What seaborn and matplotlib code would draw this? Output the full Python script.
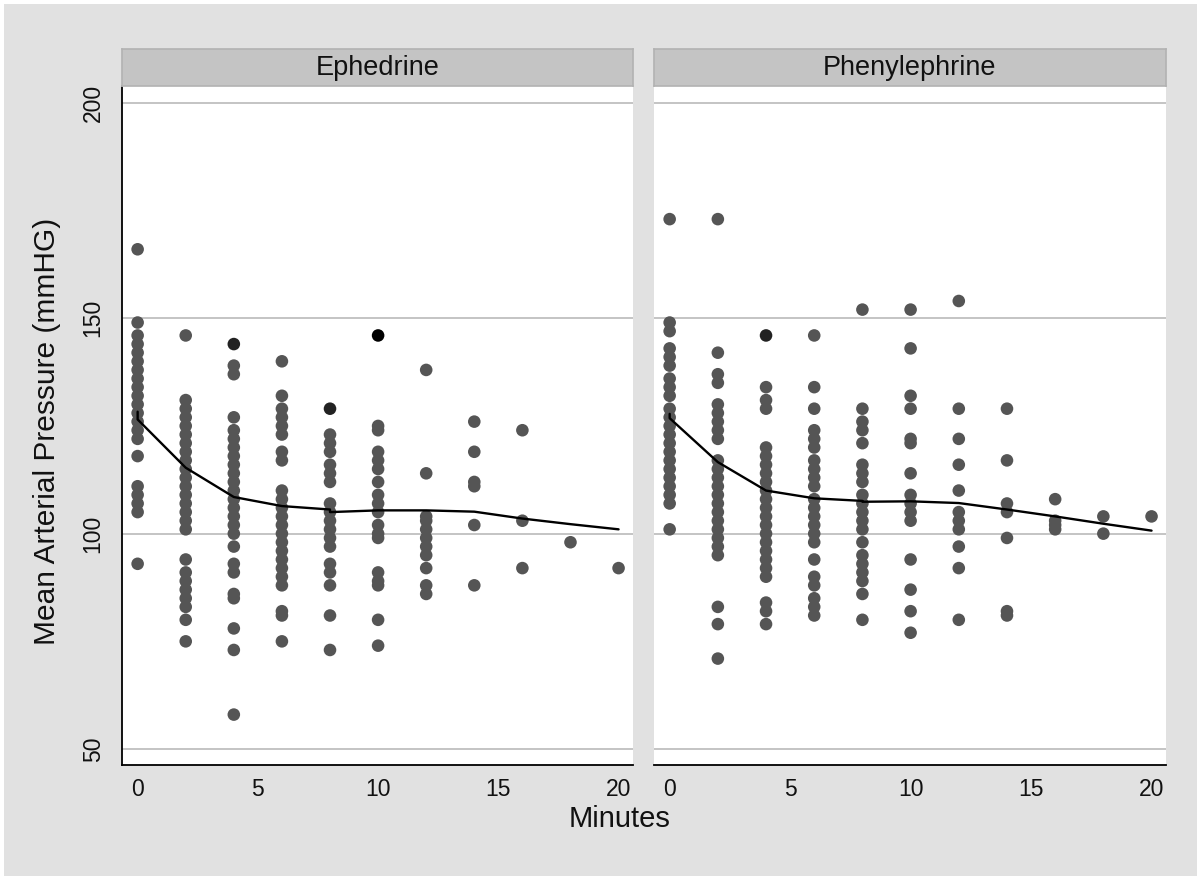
import numpy as np
import pandas as pd
import matplotlib
matplotlib.use("Agg")
import matplotlib.pyplot as plt
from matplotlib.patches import Rectangle
import seaborn as sns

# ---------------- data ----------------
panels = ["Ephedrine", "Phenylephrine"]
minutes = [0, 2, 4, 6, 8, 10, 12, 14, 16, 18, 20]

# Ephedrine: mean arterial pressure per time point
eph_t0 = [166, 149, 146, 144, 142, 140, 138, 136, 134, 132, 130, 128, 126, 124, 122, 118, 111, 109, 107, 105, 93]
eph_t2 = [146, 131, 129, 127, 125, 123, 121, 119, 117, 115, 113, 111, 109, 107, 105, 103, 101, 94, 91, 89, 87, 85, 83, 80, 75]
eph_t4 = [144, 144, 139, 137, 127, 124, 122, 120, 118, 116, 114, 112, 110, 108, 106, 104, 102, 100, 97, 93, 91, 86, 85, 78, 73, 58]
eph_t6 = [140, 132, 129, 127, 125, 123, 119, 117, 110, 108, 106, 104, 102, 100, 98, 96, 94, 92, 90, 88, 82, 81, 75]
eph_t8 = [129, 129, 123, 121, 119, 116, 114, 112, 107, 105, 103, 101, 99, 97, 93, 91, 88, 81, 73]
eph_t10 = [146, 146, 146, 125, 124, 119, 117, 115, 112, 109, 107, 105, 102, 100, 99, 91, 89, 88, 80, 74]
eph_t12 = [138, 114, 104, 103, 101, 99, 97, 95, 92, 88, 86]
eph_t14 = [126, 119, 112, 111, 102, 88]
eph_t16 = [124, 103, 92]
eph_t18 = [98]
eph_t20 = [92]

# Phenylephrine: mean arterial pressure per time point
phe_t0 = [173, 149, 147, 143, 141, 139, 136, 134, 132, 129, 127, 125, 123, 121, 119, 117, 115, 113, 111, 109, 107, 101]
phe_t2 = [173, 142, 137, 135, 130, 128, 126, 124, 122, 117, 115, 113, 111, 109, 107, 105, 103, 101, 99, 97, 95, 83, 79, 71]
phe_t4 = [146, 146, 134, 131, 129, 120, 118, 116, 114, 112, 110, 108, 106, 104, 102, 100, 98, 96, 94, 92, 90, 84, 82, 79]
phe_t6 = [146, 134, 129, 124, 122, 120, 117, 115, 113, 111, 108, 106, 104, 102, 100, 98, 94, 90, 88, 85, 83, 81]
phe_t8 = [152, 129, 126, 124, 121, 116, 114, 112, 109, 107, 105, 103, 101, 98, 95, 93, 91, 89, 86, 80]
phe_t10 = [152, 143, 132, 129, 122, 121, 114, 109, 107, 105, 103, 94, 87, 82, 77]
phe_t12 = [154, 129, 122, 116, 110, 105, 103, 101, 97, 92, 80]
phe_t14 = [129, 117, 107, 105, 99, 82, 81]
phe_t16 = [108, 103, 102, 101]
phe_t18 = [104, 100]
phe_t20 = [104]

# smoothed (lowess) curves
fit_minutes = [0, 0, 2, 4, 6, 8, 8, 10, 12, 14, 16, 18, 20]
eph_fit = [128.3, 126.5, 115.3, 108.5, 106.4, 105.6, 105.0, 105.4, 105.4, 105.1, 103.5, 102.2, 101.0]
phe_fit = [127.8, 126.8, 116.6, 110.0, 108.2, 107.6, 107.4, 107.5, 107.1, 105.6, 104.0, 102.3, 100.7]

yticks = [50, 100, 150, 200]
xticks = [0, 5, 10, 15, 20]
ylabel = "Mean Arterial Pressure (mmHG)"
xlabel = "Minutes"

# ---------------- build tables ----------------
eph_groups = [eph_t0, eph_t2, eph_t4, eph_t6, eph_t8, eph_t10, eph_t12, eph_t14, eph_t16, eph_t18, eph_t20]
phe_groups = [phe_t0, phe_t2, phe_t4, phe_t6, phe_t8, phe_t10, phe_t12, phe_t14, phe_t16, phe_t18, phe_t20]

rows = []
for drug, groups in zip(panels, [eph_groups, phe_groups]):
    for m, vals in zip(minutes, groups):
        for v in vals:
            rows.append((drug, m, v))
df = pd.DataFrame(rows, columns=["drug", "minute", "map"])
cnt = df.groupby(["drug", "minute", "map"]).size().reset_index(name="n")
cnt["overlap"] = cnt["n"].clip(upper=3).astype(str)

fit = pd.DataFrame({
    "drug": [panels[0]] * len(fit_minutes) + [panels[1]] * len(fit_minutes),
    "minute": fit_minutes + fit_minutes,
    "map": eph_fit + phe_fit,
})

# ---------------- style ----------------
sns.set_theme(style="white")
plt.rcParams["font.family"] = ["Liberation Sans", "DejaVu Sans"]

W, H = 1201, 880
fig = plt.figure(figsize=(W / 100, H / 100), dpi=100, facecolor="white")
fig.patches.append(Rectangle((4 / W, 4 / H), (W - 8) / W, (H - 8) / H,
                             transform=fig.transFigure, facecolor="#e1e1e1",
                             edgecolor="none", zorder=-10))

ax_bottom, ax_top = 765, 86
strip_top = 49
lefts = [122, 654]
widths = [511, 512]
palette = {"1": "#555555", "2": "#222222", "3": "#000000"}

for i, drug in enumerate(panels):
    l, w = lefts[i], widths[i]
    ax = fig.add_axes([l / W, 1 - ax_bottom / H, w / W, (ax_bottom - ax_top) / H])
    ax.set_facecolor("white")
    for y in yticks:
        ax.axhline(y, color="#c4c4c4", lw=1.4, zorder=0)
    sub = cnt[cnt["drug"] == drug].sort_values("n")
    sns.scatterplot(data=sub, x="minute", y="map", hue="overlap", palette=palette,
                    s=82, linewidth=0, legend=False, ax=ax, zorder=3)
    sns.lineplot(data=fit[fit["drug"] == drug], x="minute", y="map", sort=False,
                 estimator=None, color="black", lw=1.7, ax=ax, zorder=4)
    ax.set_xlim(-0.65, 20.6)
    ax.set_ylim(46.3, 203.9)
    ax.set_xticks(xticks)
    ax.set_yticks(yticks)
    ax.set_xlabel("")
    ax.set_ylabel("")
    for side in ["top", "right"]:
        ax.spines[side].set_visible(False)
    ax.spines["bottom"].set_color("black")
    ax.spines["bottom"].set_linewidth(1.3)
    ax.tick_params(axis="both", direction="out", length=6.5, width=1.2,
                   color="black", labelsize=16.5, labelcolor="#111111", pad=3)
    if i == 0:
        ax.spines["left"].set_color("black")
        ax.spines["left"].set_linewidth(1.3)
        ax.tick_params(axis="y", pad=6)
        for lab in ax.get_yticklabels():
            lab.set_rotation(90)
            lab.set_va("center")
    else:
        ax.spines["left"].set_visible(False)
        ax.tick_params(axis="y", left=False, labelleft=False)

    # panel title strip
    sax = fig.add_axes([l / W, 1 - ax_top / H, w / W, (ax_top - strip_top) / H])
    sax.set_facecolor("#c4c4c4")
    sax.set_xticks([])
    sax.set_yticks([])
    for sp in sax.spines.values():
        sp.set_color("#b2b2b2")
        sp.set_linewidth(1.2)
    sax.text(0.5, 0.48, drug, ha="center", va="center", fontsize=19.5, color="#111111",
             transform=sax.transAxes)

fig.text(47 / W, 1 - 431 / H, ylabel, rotation=90, ha="center", va="center",
         fontsize=21.5, color="#111111")
fig.text(620 / W, 1 - 819 / H, xlabel, ha="center", va="center",
         fontsize=21, color="#111111")

fig.savefig("out.png", dpi=100, facecolor=fig.get_facecolor())
